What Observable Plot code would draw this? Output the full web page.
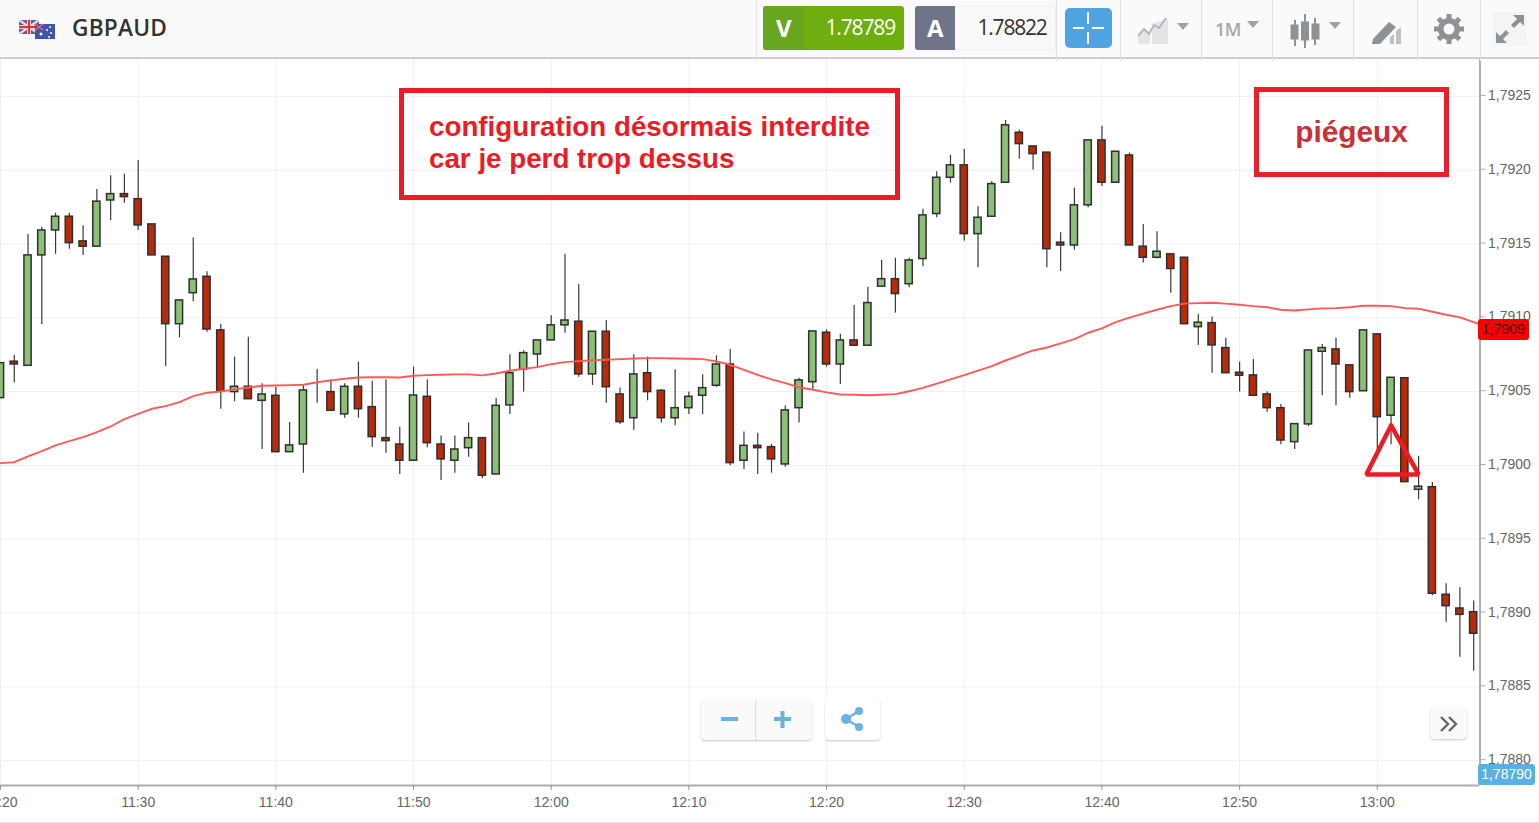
<!DOCTYPE html>
<html lang="fr">
<head>
<meta charset="utf-8">
<title>GBPAUD</title>
<script src="https://cdn.jsdelivr.net/npm/d3@7"></script>
<script src="https://cdn.jsdelivr.net/npm/@observablehq/plot@0.6"></script>
<style>
html,body{margin:0;padding:0;background:#fff;width:1539px;height:823px;overflow:hidden;font-family:"Liberation Sans",Arial,sans-serif}
.abs{position:absolute;box-sizing:border-box}
#bar{left:0;top:0;width:1539px;height:59px;background:#fafafa;border-bottom:2px solid #cfcfcf}
.div{width:1px;top:0;height:61px;background:#e2e2e2}
#chart{left:0;top:59px;width:1539px;height:764px;overflow:hidden}
#chart svg text{font-family:"Liberation Sans",Arial,sans-serif}
.tb{font-family:"Open Sans",sans-serif}
.btn{background:#fafafa;border-radius:4px;box-shadow:0 1px 2px rgba(0,0,0,.22)}
.note{border:5px solid #ed1c24;background:transparent}
</style>
</head>
<body>
<div id="chart" class="abs"></div>

<div id="bar" class="abs"></div>
<div class="abs div" style="left:756px"></div><div class="abs div" style="left:1056px"></div>
<div class="abs div" style="left:1120px"></div><div class="abs div" style="left:1201px"></div>
<div class="abs div" style="left:1272px"></div><div class="abs div" style="left:1353px"></div>
<div class="abs div" style="left:1417px"></div><div class="abs div" style="left:1480px"></div>

<svg class="abs" style="left:18px;top:18px" width="40" height="22" viewBox="0 0 40 22">
  <rect x="1" y="2" width="20" height="14" fill="#5a5f9a"/>
  <path d="M1 2L21 16M21 2L1 16" stroke="#e8d8e0" stroke-width="2.4"/>
  <path d="M11 2V16M1 9H21" stroke="#f4d0d0" stroke-width="4"/>
  <path d="M11 2V16M1 9H21" stroke="#e0303a" stroke-width="2"/>
  <rect x="17" y="6" width="20" height="15" fill="#3f55ad"/>
  <path d="M17 6L25 12M25 6L17 12" stroke="#e86a70" stroke-width="1.4"/>
  <circle cx="23" cy="16" r="1.5" fill="#fff"/><circle cx="32" cy="9" r="1" fill="#fff"/><circle cx="33" cy="15" r="1" fill="#fff"/><circle cx="29" cy="12" r="1" fill="#fff"/><circle cx="31" cy="19" r="1" fill="#fff"/>
</svg>
<div class="abs tb" style="left:72px;top:12px;font-size:22.7px;font-weight:600;color:#333;letter-spacing:.2px">GBPAUD</div>

<div class="abs" style="left:763px;top:6px;width:141px;height:44px;background:#6fae0f;border-radius:3px"></div>
<div class="abs" style="left:763px;top:6px;width:41px;height:44px;background:#69a620;border-radius:3px 0 0 3px"></div>
<div class="abs tb" style="left:776px;top:11px;font-size:24px;font-weight:700;color:#fff">V</div>
<div class="abs tb" style="left:825.500px;top:13px;font-size:21px;color:#fff;letter-spacing:-1.15px">1.78789</div>
<div class="abs" style="left:915px;top:6px;width:141px;height:44px;background:#f9f9f9;border:1px solid #eee;border-radius:3px"></div>
<div class="abs" style="left:915px;top:6px;width:40px;height:44px;background:#6f7489;border-radius:3px 0 0 3px"></div>
<div class="abs tb" style="left:927px;top:11px;font-size:24px;font-weight:700;color:#fff">A</div>
<div class="abs tb" style="left:977.500px;top:13px;font-size:21px;color:#333;letter-spacing:-1.2px">1.78822</div>
<svg class="abs" style="left:1065px;top:8px" width="48" height="40">
  <rect width="47" height="40" rx="5" fill="#4fa3e0"/>
  <path d="M23 4V16M23 24V36M8 20H19M27 20H39" stroke="#fff" stroke-width="2"/>
</svg>
<svg class="abs" style="left:1130px;top:10px" width="70" height="40" fill="#9ea3a8">
  <path d="M8 34V24L14 18L20 22V34Z" fill="#e2e4e6"/><path d="M22 34V14L38 8V34Z" fill="#e2e4e6"/>
  <path d="M8 26L14 19L19 24L24 15L29 18L36 8" fill="none" stroke="#b0b4b8" stroke-width="1.8"/>
  <path d="M47 13H59L53 20Z"/>
</svg>
<div class="abs tb" style="left:1215px;top:17px;font-size:18px;font-weight:600;color:#a4a8ac;letter-spacing:-.5px">1M</div>
<svg class="abs" style="left:1245px;top:20px" width="16" height="10" fill="#9ea3a8"><path d="M2 1H14L8 8Z"/></svg>
<svg class="abs" style="left:1286px;top:12px" width="60" height="38" fill="#8d9296" stroke="#8d9296">
  <path d="M9 8V34M19 2V36M29 6V33" stroke-width="2"/>
  <rect x="5" y="13" width="7" height="14"/><rect x="15.500" y="10" width="7" height="18"/><rect x="26" y="12" width="7" height="15"/>
  <path d="M43 10H55L49 17Z" fill="#9ea3a8" stroke="none"/>
</svg>
<svg class="abs" style="left:1370px;top:18px" width="34" height="28" fill="#8d9296">
  <path d="M3 21L19 4L26 9L10 26L2 26Z"/><path d="M20 26V19L24 16V26ZM26 26V13L31 9V26Z" fill="#bfc2c5"/>
</svg>
<svg class="abs" style="left:1433px;top:13px" width="32" height="32" viewBox="0 0 32 32">
  <g fill="#8d9296"><circle cx="16" cy="16" r="11"/>
  <g stroke="#8d9296" stroke-width="5"><path d="M16 1V31M1 16H31M5.400 5.400L26.600 26.600M26.600 5.400L5.400 26.600"/></g></g>
  <circle cx="16" cy="16" r="5.500" fill="#fafafa"/>
</svg>
<svg class="abs" style="left:1493px;top:12px" width="34" height="34" fill="#8d9296">
  <rect width="34" height="34" fill="#f4f4f4"/>
  <path d="M20 3H31V14L27 10L21 16L18 13L24 7ZM14 31H3V20L7 24L13 18L16 21L10 27Z"/>
</svg>

<div class="abs note" style="left:399px;top:88px;width:501px;height:112px"></div>
<div class="abs" style="left:429px;top:111px;font-size:27.75px;line-height:32px;font-weight:700;color:#ed1c24;white-space:nowrap">configuration désormais interdite<br>car je perd trop dessus</div>
<div class="abs note" style="left:1254px;top:87px;width:195px;height:90px;border-color:#e8202c"></div>
<div class="abs" style="left:1254px;top:115px;width:195px;text-align:center;font-size:29.8px;font-weight:700;color:#c8303a">piégeux</div>

<div class="abs" style="left:1478px;top:319px;width:51px;height:21px;background:#f90000;border-radius:3px;color:#4a0000;font-size:14px;line-height:21px;text-align:center">1,7909</div>
<div class="abs" style="left:1478px;top:764px;width:57px;height:21px;background:#5ab0e0;border-radius:3px;color:#fff;font-size:14px;line-height:21px;text-align:center">1,78790</div>

<div class="abs btn" style="left:701px;top:700px;width:111px;height:40px"></div>
<div class="abs" style="left:755px;top:700px;width:1px;height:40px;background:#ddd"></div>
<svg class="abs" style="left:701px;top:700px" width="111" height="40"><path d="M20 19H37M73 19H90M81.500 11V28" stroke="#6cb2de" stroke-width="4" fill="none"/></svg>
<div class="abs btn" style="left:825px;top:700px;width:55px;height:40px;background:#fff"></div>
<svg class="abs" style="left:825px;top:700px" width="55" height="40" fill="#6cb2de">
  <path d="M21 19L34 11M21 19L34 27" stroke="#6cb2de" stroke-width="2.5"/><circle cx="21" cy="19" r="5"/><circle cx="34" cy="11" r="4"/><circle cx="34" cy="27" r="4"/>
</svg>
<div class="abs btn" style="left:1430px;top:708px;width:37px;height:31px"></div>
<svg class="abs" style="left:1430px;top:708px" width="37" height="31"><path d="M11 9L18 16L11 23M19 9L26 16L19 23" fill="none" stroke="#666" stroke-width="2.4"/></svg>
<div class="abs" style="left:0;top:822px;width:1539px;height:1px;background:#e4e4e4"></div>

<script>
const startUTC = Date.UTC(2020, 0, 1, 11, 20);
const opens = [1.790456,1.790703,1.790675,1.791423,1.791592,1.791685,1.791518,1.791482,1.791795,1.791838,
1.791804,1.791633,1.791414,1.790957,1.791167,1.791278,1.790915,1.790497,1.790533,1.790438,
1.790472,1.79009,1.790142,1.790517,1.790497,1.790346,1.790533,1.790395,1.790185,1.790142,
1.790032,1.790465,1.790142,1.790032,1.790117,1.790185,1.789939,1.790407,1.79065,1.790752,
1.790847,1.790949,1.790974,1.790617,1.790906,1.790481,1.79032,1.790625,1.790506,1.79032,
1.790388,1.790472,1.79054,1.790684,1.790032,1.790133,1.790124,1.790007,1.790388,1.790564,
1.790899,1.790684,1.790847,1.790811,1.791211,1.791262,1.791228,1.791398,1.791703,1.791949,
1.792033,1.791567,1.791685,1.791915,1.792254,1.792161,1.792119,1.791509,1.79149,1.791762,
1.792202,1.791915,1.7921,1.791482,1.791407,1.79143,1.791407,1.790937,1.790964,1.790795,
1.790628,1.79061,1.790481,1.790388,1.790158,1.790278,1.79077,1.790786,1.790678,1.790503,
1.790888,1.790337,1.790591,1.789835,1.789853,1.789124,1.789031,1.789006];
const highs = [1.790693,1.790745,1.791565,1.791614,1.791709,1.791709,1.791624,1.79187,1.791963,1.791972,
1.792066,1.791633,1.791414,1.791118,1.79154,1.791312,1.790955,1.790734,1.790869,1.790554,
1.79053,1.790291,1.79054,1.79065,1.790581,1.790554,1.7907,1.790571,1.790581,1.790259,
1.790666,1.790581,1.790199,1.790199,1.790287,1.790185,1.790454,1.79075,1.790777,1.790847,
1.791014,1.79143,1.791226,1.790906,1.790982,1.790524,1.79075,1.790734,1.790513,1.790648,
1.790497,1.790614,1.790743,1.790786,1.790226,1.790219,1.790142,1.790404,1.790591,1.790908,
1.790919,1.790888,1.791084,1.791208,1.791389,1.791404,1.791404,1.791736,1.79199,1.7921,
1.792141,1.791753,1.791924,1.792337,1.79227,1.792161,1.792119,1.791577,1.791879,1.792202,
1.792297,1.792125,1.792116,1.791633,1.791583,1.79143,1.791407,1.791023,1.791005,1.790862,
1.7907,1.790718,1.790499,1.790413,1.79028,1.790779,1.79082,1.790862,1.790678,1.790915,
1.790888,1.790594,1.790591,1.790063,1.789885,1.789199,1.789171,1.789081];
const lows = [1.790456,1.790558,1.790675,1.790955,1.79143,1.791465,1.791423,1.791482,1.79166,1.791777,
1.791592,1.791423,1.790669,1.790865,1.791111,1.790903,1.790381,1.790432,1.790449,1.790108,
1.79009,1.79009,1.789948,1.790422,1.790371,1.79032,1.79032,1.790124,1.790083,1.789939,
1.790032,1.79012,1.789898,1.789948,1.790056,1.789912,1.789939,1.790346,1.790497,1.790662,
1.790847,1.790896,1.790598,1.790542,1.790422,1.790278,1.790237,1.790438,1.790287,1.790269,
1.790346,1.790346,1.79053,1.789998,1.789973,1.789939,1.789948,1.789988,1.790287,1.790513,
1.790666,1.790549,1.790811,1.790811,1.791211,1.791032,1.791204,1.791346,1.791678,1.791913,
1.791518,1.791339,1.791685,1.791915,1.792075,1.791999,1.791339,1.791314,1.791457,1.791746,
1.79189,1.791915,1.79149,1.791371,1.791398,1.791167,1.790957,1.790813,1.790625,1.790625,
1.790497,1.790472,1.790361,1.79014,1.790108,1.790264,1.790472,1.790404,1.790456,1.790503,
1.790102,1.79014,1.789887,1.789768,1.789117,1.788938,1.788701,1.788606];
const closes = [1.790693,1.790684,1.791423,1.791592,1.791685,1.791506,1.791482,1.791787,1.791838,1.791818,
1.791626,1.791423,1.790957,1.791118,1.79126,1.790921,1.790499,1.790533,1.790449,1.790481,
1.79009,1.790136,1.790508,1.790517,1.790371,1.790533,1.790381,1.790192,1.790165,1.790032,
1.790474,1.790151,1.790041,1.790108,1.790185,1.78993,1.790404,1.790625,1.790761,1.790847,
1.790949,1.790982,1.790617,1.790906,1.79053,1.790293,1.790617,1.790497,1.79032,1.790388,
1.790465,1.790524,1.790684,1.790016,1.790133,1.790117,1.790041,1.790373,1.790576,1.790908,
1.790684,1.790847,1.790811,1.7911,1.791262,1.791161,1.791389,1.791694,1.791949,1.792033,
1.791567,1.791678,1.791906,1.792304,1.792177,1.792109,1.791465,1.79149,1.791762,1.792202,
1.791915,1.792125,1.79149,1.791407,1.791448,1.791331,1.790957,1.790967,1.790813,1.790625,
1.790608,1.790472,1.790388,1.790169,1.79028,1.790779,1.790795,1.790684,1.790497,1.790915,
1.790327,1.790594,1.789887,1.789856,1.789131,1.789047,1.788988,1.78886];
const movingAvg = [1.790016,1.790022,1.790061,1.790097,1.790136,1.790165,1.790192,1.790226,1.790264,1.790314,
1.79035,1.790384,1.790402,1.790429,1.79047,1.790493,1.790501,1.790515,1.790528,1.79054,
1.790542,1.790544,1.790547,1.790564,1.790576,1.790587,1.790596,1.790598,1.790598,1.790596,
1.790608,1.790612,1.790614,1.790617,1.790617,1.79061,1.790623,1.790642,1.790655,1.790666,
1.790686,1.7907,1.790707,1.790713,1.790716,1.79072,1.790725,1.790727,1.790727,1.790725,
1.790723,1.79072,1.790705,1.790682,1.790648,1.790614,1.790583,1.790558,
1.79053,1.790513,1.790495,1.790481,1.790479,1.790476,1.790479,1.790483,1.790503,1.790526,
1.790554,1.790583,1.790612,1.790642,1.790673,1.790711,1.790745,1.790779,1.790799,1.790827,
1.790856,1.790899,1.790928,1.790971,1.791001,1.791028,1.791055,1.791079,
1.791096,1.7911,1.791102,1.791096,1.791089,1.791079,1.791072,1.791055,1.79105,1.791057,
1.791064,1.791066,1.791072,1.791082,1.791082,1.791079,1.791066,1.791062,1.791041,1.791021,1.791003,1.790971,
1.790935];
const priceTicks = [1.788,1.7885,1.789,1.7895,1.79,1.7905,1.791,1.7915,1.792,1.7925];
const minuteTicks = [0,10,20,30,40,50,60,70,80,90,100];
const triangleMinutes = [101,99.2,103,101];
const trianglePrices = [1.790271,1.789939,1.789939,1.790271];

const toTime = m => new Date(startUTC + m * 60000);
const halfBody = 0.262;
const candles = opens.map((o, i) => ({
  t: i, open: o, high: highs[i], low: lows[i], close: closes[i],
  color: closes[i] === o ? "#777" : closes[i] > o ? "#8cc078" : "#b82a0a"
}));
const avg = movingAvg.map((v, i) => ({t: toTime(i), v}));
const tri = triangleMinutes.map((m, i) => ({t: toTime(m), v: trianglePrices[i]}));
const domX = [toTime(0), toTime(107.46)];
const domY = [1.787832, 1.79275];

const chart = Plot.plot({
  width: 1539, height: 764,
  marginLeft: 0, marginRight: 59.5, marginTop: 0, marginBottom: 38,
  style: {background: "transparent", fontSize: "14px", overflow: "hidden"},
  x: {type: "utc", domain: domX},
  y: {domain: domY},
  marks: [
    Plot.gridX(minuteTicks.map(toTime), {stroke: "#efefef", strokeOpacity: 1}),
    Plot.gridY(priceTicks, {stroke: "#efefef", strokeOpacity: 1}),
    Plot.ruleX(candles, {x: d => toTime(d.t), y1: "low", y2: "high", stroke: "#3a3a3a", strokeWidth: 1.2, clip: true}),
    Plot.rect(candles, {
      x1: d => toTime(d.t - halfBody), x2: d => toTime(d.t + halfBody),
      y1: "open", y2: "close", fill: "color", stroke: "#2f2f2f", strokeWidth: 1.5, clip: true
    }),
    Plot.line(avg, {x: "t", y: "v", stroke: "#ff5a5a", strokeWidth: 1.9, clip: true}),
    Plot.line(tri, {x: "t", y: "v", stroke: "#ed1c24", strokeWidth: 4.5, strokeLinejoin: "miter"}),
    Plot.ruleX([domX[1]], {stroke: "#aeaeae", strokeWidth: 2}),
    Plot.ruleY([domY[0]], {stroke: "#aeaeae", strokeWidth: 2}),
    Plot.axisX(minuteTicks.map(toTime), {anchor: "bottom", tickSize: 5, tickPadding: 7, tickFormat: d3.utcFormat("%H:%M"), label: null, color: "#666", stroke: "#999", fontSize: 14}),
    Plot.axisY(priceTicks, {anchor: "right", tickSize: 5, tickPadding: 3, dy: -1, tickFormat: d => d.toFixed(4).replace(".", ","), label: null, color: "#666", stroke: "#aaa", fontSize: 14})
  ]
});
document.getElementById("chart").appendChild(chart);
</script>
</body>
</html>
